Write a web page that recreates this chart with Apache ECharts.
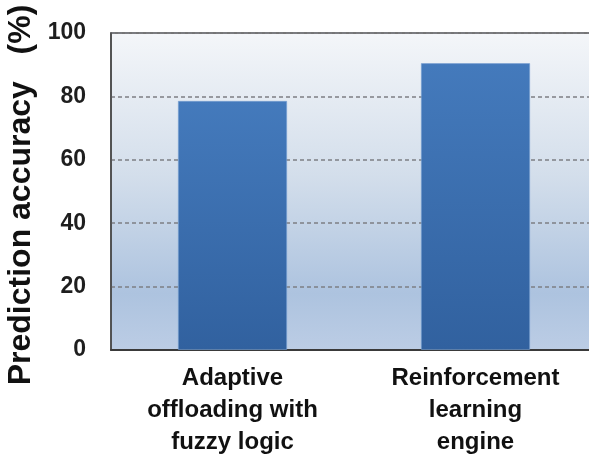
<!DOCTYPE html>
<html>
<head>
<meta charset="utf-8">
<script src="https://cdn.jsdelivr.net/npm/echarts@6/dist/echarts.min.js"></script>
<style>
  html, body { margin: 0; padding: 0; background: #ffffff; }
  #chart { width: 589px; height: 464px; }
</style>
</head>
<body>
<div id="chart"></div>
<script>
// Methods compared
const categories = ['Adaptive\noffloading with\nfuzzy logic', 'Reinforcement\nlearning\nengine'];
// Prediction accuracy in percent
const accuracy = [78.6, 90.5];
// Value axis settings
const yMin = 0;
const yMax = 100;
const yStep = 20;
const yTitle = 'Prediction accuracy   (%)';

const chart = echarts.init(document.getElementById('chart'), null, { renderer: 'canvas' });

chart.setOption({
  animation: false,
  grid: {
    left: 111,
    top: 33,
    bottom: 114,
    width: 486,
    outerBoundsMode: 'none',
    containLabel: false,
    show: true,
    borderColor: '#4a4a4a',
    borderWidth: 1.5,
    backgroundColor: {
      type: 'linear', x: 0, y: 0, x2: 0, y2: 1,
      colorStops: [
        { offset: 0, color: '#f4f6f9' },
        { offset: 0.45, color: '#d3deeb' },
        { offset: 0.82, color: '#adc3df' },
        { offset: 1, color: '#bccde5' }
      ]
    }
  },
  xAxis: {
    type: 'category',
    data: categories,
    axisLine: { show: true, lineStyle: { color: '#3a3a3a', width: 2 } },
    axisTick: { show: false },
    axisLabel: {
      interval: 0,
      margin: 12,
      color: '#111',
      fontFamily: 'Liberation Sans, Arial, sans-serif',
      fontWeight: 'bold',
      fontSize: 24,
      lineHeight: 32
    }
  },
  yAxis: {
    type: 'value',
    min: yMin,
    max: yMax,
    interval: yStep,
    name: yTitle,
    nameLocation: 'middle',
    nameGap: 72,
    nameTextStyle: {
      color: '#111',
      fontFamily: 'Liberation Sans, Arial, sans-serif',
      fontWeight: 'bold',
      fontSize: 32,
      padding: [0, 7, 0, 0]
    },
    axisLine: { show: true, lineStyle: { color: '#4a4a4a', width: 1.5 } },
    axisTick: { show: false },
    axisLabel: {
      margin: 25,
      color: '#1e1e1e',
      fontFamily: 'Liberation Sans Narrow, Arial Narrow, sans-serif',
      fontWeight: 'bold',
      fontSize: 23
    },
    splitLine: {
      show: true,
      lineStyle: { color: '#7d7f84', width: 1.5, type: [4, 3] }
    }
  },
  series: [{
    type: 'bar',
    data: accuracy,
    barWidth: '45%',
    itemStyle: {
      color: {
        type: 'linear', x: 0, y: 0, x2: 0, y2: 1,
        colorStops: [
          { offset: 0, color: '#447abc' },
          { offset: 1, color: '#31619f' }
        ]
      },
      borderColor: 'rgba(120,160,210,0.6)',
      borderWidth: 1
    }
  }]
});
</script>
</body>
</html>
